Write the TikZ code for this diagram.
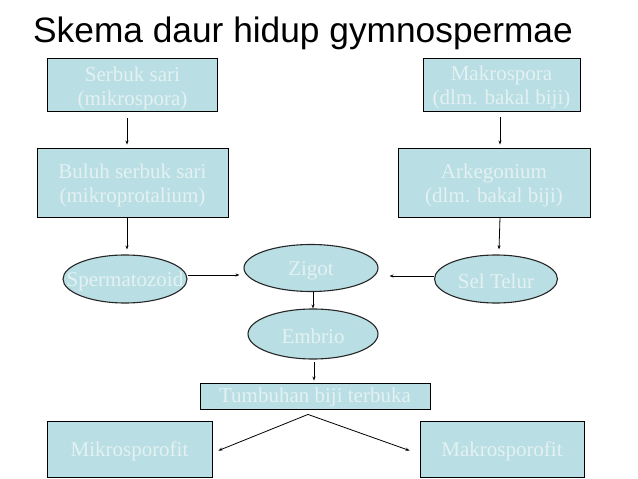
\documentclass[tikz,border=0pt]{standalone}
\usepackage{fontspec}
\setmainfont{Liberation Serif}
\newfontfamily\titlefont{Liberation Sans}
\usetikzlibrary{shapes.geometric,arrows.meta}
\definecolor{boxfill}{RGB}{185,223,228}
\definecolor{boxtext}{RGB}{228,241,243}
\tikzset{
  txt/.style={text=boxtext,font=\fontsize{21}{24}\selectfont,align=center,inner sep=0pt},
  rbox/.style={draw=black,line width=0.9pt,fill=boxfill,rectangle,inner sep=0pt},
  ebox/.style={draw=black!85,line width=1.1pt,fill=boxfill,ellipse,inner sep=0pt},
  arr/.style={draw=black,line width=0.8pt,-{Stealth[length=4pt,width=3pt]}}
}
\begin{document}
\begin{tikzpicture}[x=1pt,y=-1pt]
\useasboundingbox[fill=white] (0,0) rectangle (638,479);
\node[anchor=base west,inner sep=0pt,font=\titlefont\fontsize{35.3}{40}\selectfont] (title) at (33,42) {Skema daur hidup gymnospermae};
\node[rbox,minimum width=170pt,minimum height=53pt,label={[txt,yshift=-3pt]center:Serbuk sari\\(mikrospora)}] (serbuk) at (132.5,85) {};
\node[rbox,minimum width=157pt,minimum height=53pt,label={[txt,yshift=-3pt]center:Makrospora\\(dlm. bakal biji)}] (makro) at (501.5,84.5) {};
\node[rbox,minimum width=191pt,minimum height=69pt,label={[txt,yshift=-3pt]center:Buluh serbuk sari\\(mikroprotalium)}] (buluh) at (132.5,182.5) {};
\node[rbox,minimum width=192pt,minimum height=69pt,label={[txt,yshift=-3pt]center:Arkegonium\\(dlm. bakal biji)}] (arke) at (494,182.5) {};
\node[ebox,minimum width=124pt,minimum height=48pt,label={[txt,yshift=-2pt]center:Spermatozoid}] (sperm) at (125,279) {};
\node[ebox,minimum width=134pt,minimum height=47pt,label={[txt,yshift=-3pt]center:Zigot}] (zigot) at (311,268) {};
\node[ebox,minimum width=130pt,minimum height=50pt,label={[txt,yshift=-2pt]center:Embrio}] (embrio) at (313,334) {};
\node[ebox,minimum width=123pt,minimum height=48pt,label={[txt,yshift=-2pt]center:Sel Telur}] (sel) at (496,279) {};
\node[rbox,minimum width=230pt,minimum height=26pt,label={[txt,yshift=-1.5pt]center:Tumbuhan biji terbuka}] (tumb) at (315,396) {};
\node[rbox,minimum width=165pt,minimum height=56pt,label={[txt,yshift=-2pt]center:Mikrosporofit}] (mikrof) at (129.5,449) {};
\node[rbox,minimum width=164pt,minimum height=56pt,label={[txt,yshift=-2pt]center:Makrosporofit}] (makrof) at (502,449) {};
\draw[arr] ([xshift=-5.5pt,yshift=-6pt]serbuk.south) -- ([xshift=-5.5pt,yshift=3pt]buluh.north);
\draw[arr] ([xshift=-1.5pt,yshift=-6pt]makro.south) -- ([xshift=6pt,yshift=3pt]arke.north);
\draw[arr] ([xshift=-5.5pt]buluh.south) -- ([xshift=2pt,yshift=5pt]sperm.north);
\draw[arr] ([xshift=6pt]arke.south) -- ([xshift=3pt,yshift=5pt]sel.north);
\draw[arr] ([yshift=4pt]sperm.east) -- ([xshift=-4pt,yshift=-7pt]zigot.west);
\draw[arr] ([yshift=3pt]sel.west) -- ([xshift=11pt,yshift=-8pt]zigot.east);
\draw[arr] ([xshift=2pt]zigot.south) -- (embrio.north);
\draw[arr] ([xshift=1pt,yshift=-2pt]embrio.south) -- ([xshift=-1pt,yshift=2pt]tumb.north);
\draw[arr] ([xshift=-7pt,yshift=-5pt]tumb.south) -- ([xshift=6pt,yshift=-30pt]mikrof.north east);
\draw[arr] ([xshift=-7pt,yshift=-5pt]tumb.south) -- ([xshift=-10pt,yshift=-30pt]makrof.north west);
\end{tikzpicture}
\end{document}
